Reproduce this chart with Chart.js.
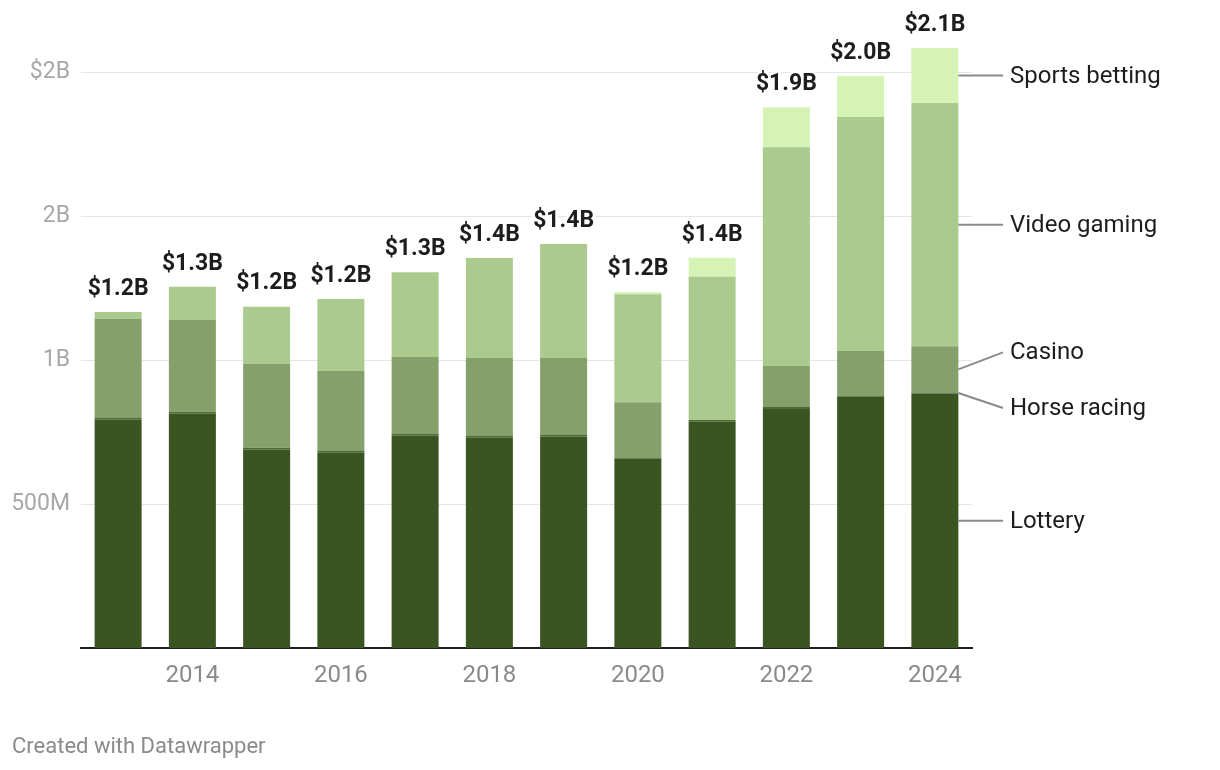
<!DOCTYPE html>
<html lang="en">
<head>
    <meta charset="UTF-8">
    <title>Gambling revenue by type</title>
    <script src="https://cdn.jsdelivr.net/npm/chart.js"></script>
    <style>
        html, body { margin: 0; padding: 0; background: #fff; }
        .wrap { position: relative; width: 1220px; height: 770px; }
        .credit {
            position: absolute; left: 12px; top: 733px;
            font-family: Roboto, sans-serif; font-size: 22px; color: #8a8a8a;
        }
    </style>
</head>
<body>
    <div class="wrap">
        <canvas id="revChart" width="1220" height="770"></canvas>
        <div class="credit">Created with Datawrapper</div>
    </div>
    <script>
        // values in millions of dollars
        const years = ['2013', '2014', '2015', '2016', '2017', '2018', '2019', '2020', '2021', '2022', '2023', '2024'];
        const lottery = [793, 814, 689, 678, 737, 730, 734, 657, 786, 830, 872, 884];
        const horseRacing = [7, 6, 6, 6, 6, 6, 6, 3, 6, 7, 3, 3];
        const casino = [343, 319, 292, 278, 267, 271, 267, 193, 0, 142, 157, 161];
        const videoGaming = [24, 115, 198, 250, 295, 347, 396, 375, 497, 760, 812, 844];
        const sportsBetting = [0, 0, 0, 0, 0, 0, 0, 7, 66, 139, 142, 191];

        const tickValues = [500, 1000, 1500, 2000];
        const tickLabels = ['500M', '1B', '2B', '$2B'];

        const seriesNames = ['Lottery', 'Horse racing', 'Casino', 'Video gaming', 'Sports betting'];
        const seriesData = [lottery, horseRacing, casino, videoGaming, sportsBetting];
        const seriesColors = ['#3a5422', '#4d6a33', '#85a06a', '#abca8e', '#d4f3b5'];

        const totals = years.map((y, i) => seriesData.reduce((s, arr) => s + arr[i], 0));

        // where the right-hand labels sit relative to the middle of the 2024 segment
        const labelShift = { 'Casino': -17, 'Horse racing': 15 };

        const overlay = {
            id: 'overlay',
            afterDatasetsDraw(chart) {
                const ctx = chart.ctx;
                const yScale = chart.scales.y;
                const xScale = chart.scales.x;
                ctx.save();

                // totals above bars
                ctx.font = 'bold 23px Roboto';
                ctx.textAlign = 'center';
                ctx.textBaseline = 'middle';
                ctx.lineJoin = 'round';
                totals.forEach((t, i) => {
                    const x = xScale.getPixelForValue(i);
                    const y = yScale.getPixelForValue(t) - 23;
                    const txt = '$' + (t / 1000).toFixed(1) + 'B';
                    ctx.strokeStyle = '#fff';
                    ctx.lineWidth = 5;
                    ctx.strokeText(txt, x, y);
                    ctx.fillStyle = '#1d1d1d';
                    ctx.fillText(txt, x, y);
                });

                // series labels at the right of the last bar
                const last = years.length - 1;
                ctx.font = '24px Roboto';
                ctx.textAlign = 'left';
                chart.data.datasets.forEach((ds, di) => {
                    const el = chart.getDatasetMeta(di).data[last];
                    const mid = (el.y + el.base) / 2;
                    const x0 = el.x + el.width / 2;
                    const ty = mid + (labelShift[ds.label] || 0);
                    ctx.strokeStyle = '#8a8a8a';
                    ctx.lineWidth = 2;
                    ctx.beginPath();
                    ctx.moveTo(x0, mid);
                    ctx.lineTo(1003, ty);
                    ctx.stroke();
                    ctx.fillStyle = '#1d1d1d';
                    ctx.fillText(ds.label, 1010, ty + 1);
                });
                ctx.restore();
            }
        };

        new Chart(document.getElementById('revChart'), {
            type: 'bar',
            data: {
                labels: years,
                datasets: seriesNames.map((name, i) => ({
                    label: name,
                    data: seriesData[i],
                    backgroundColor: seriesColors[i],
                    borderWidth: 0,
                    categoryPercentage: 1,
                    barPercentage: 0.633
                }))
            },
            options: {
                responsive: false,
                animation: false,
                layout: { padding: { left: 0, right: 248, top: 0, bottom: 0 } },
                plugins: {
                    legend: { display: false },
                    tooltip: { enabled: false }
                },
                scales: {
                    x: {
                        stacked: true,
                        grid: { display: false, drawTicks: false },
                        border: { display: true, color: '#1d1d1d', width: 2 },
                        ticks: {
                            padding: 14,
                            color: '#8a8a8a',
                            font: { family: 'Roboto', size: 24 },
                            maxRotation: 0,
                            autoSkip: false,
                            callback: (v, i) => (Number(years[i]) % 2 === 0 ? years[i] : '')
                        },
                        afterFit: (s) => { s.height = 122; s.paddingLeft = 0; s.paddingRight = 0; }
                    },
                    y: {
                        stacked: true,
                        min: 0,
                        max: 2250,
                        afterBuildTicks: (s) => { s.ticks = tickValues.map(v => ({ value: v })); },
                        grid: { color: '#e5e5e5', lineWidth: 1, drawTicks: false },
                        border: { display: false },
                        ticks: {
                            padding: 11,
                            color: '#a8a8a8',
                            font: { family: 'Roboto', size: 23 },
                            callback: (v) => tickLabels[tickValues.indexOf(v)]
                        },
                        afterFit: (s) => { s.width = 81; s.paddingTop = 0; s.paddingBottom = 0; }
                    }
                }
            },
            plugins: [overlay]
        });
    </script>
</body>
</html>
